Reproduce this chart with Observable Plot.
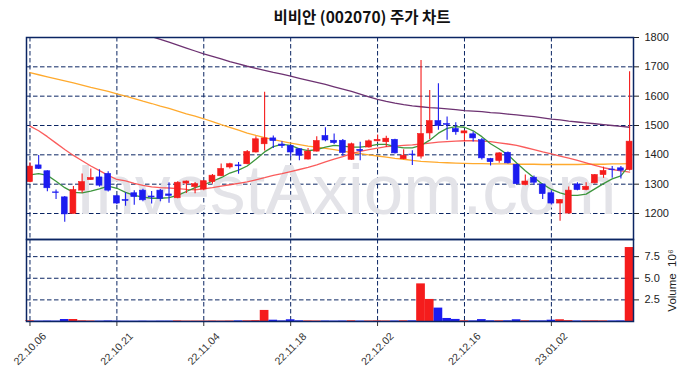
<!DOCTYPE html>
<html><head><meta charset="utf-8">
<script src="https://cdn.jsdelivr.net/npm/d3@7"></script>
<script src="https://cdn.jsdelivr.net/npm/@observablehq/plot@0.6"></script>
<style>
body{margin:0;background:#fff;}
#wrap{position:relative;width:690px;height:378px;overflow:hidden;background:#fff;}
#title{position:absolute;left:34px;width:656px;top:6px;text-align:center;font-family:"Noto Sans CJK KR","Noto Sans",sans-serif;font-size:15.5px;line-height:20px;font-weight:bold;color:#111;}
#p1,#p2{position:absolute;left:0;top:0;}
</style></head><body>
<div id="wrap"><div id="p1"></div><div id="p2"></div><div id="title">비비안 (002070) 주가 차트</div></div>
<script>
const dates = ["22.10.06","22.10.07","22.10.11","22.10.12","22.10.13","22.10.14","22.10.17","22.10.18","22.10.19","22.10.20",
"22.10.21","22.10.24","22.10.25","22.10.26","22.10.27","22.10.28","22.10.31","22.11.01","22.11.02","22.11.03",
"22.11.04","22.11.07","22.11.08","22.11.09","22.11.10","22.11.11","22.11.14","22.11.15","22.11.16","22.11.17",
"22.11.18","22.11.21","22.11.22","22.11.23","22.11.24","22.11.25","22.11.28","22.11.29","22.11.30","22.12.01",
"22.12.02","22.12.05","22.12.06","22.12.07","22.12.08","22.12.09","22.12.12","22.12.13","22.12.14","22.12.15",
"22.12.16","22.12.19","22.12.20","22.12.21","22.12.22","22.12.23","22.12.26","22.12.27","22.12.28","22.12.29",
"23.01.02","23.01.03","23.01.04","23.01.05","23.01.06","23.01.09","23.01.10","23.01.11","23.01.12","23.01.13"];
const opens = [1307,1364,1344,1272,1255,1199,1278,1314,1323,1335,1259,1246,1269,1278,1258,1278,1265,1252,1302,1290,
1282,1307,1327,1357,1364,1368,1408,1436,1456,1435,1430,1419,1384,1411,1464,1448,1448,1383,1417,1425,
1446,1443,1451,1385,1401,1394,1473,1515,1505,1488,1473,1470,1450,1386,1379,1407,1366,1297,1322,1299,
1269,1234,1200,1299,1280,1303,1331,1350,1354,1348];
const highs = [1373,1398,1346,1280,1258,1292,1335,1352,1349,1342,1262,1271,1278,1283,1275,1282,1305,1308,1311,1306,
1312,1333,1369,1371,1374,1415,1462,1613,1464,1445,1432,1421,1422,1462,1492,1471,1452,1440,1443,1451,
1468,1463,1453,1417,1414,1722,1619,1642,1529,1509,1482,1478,1456,1388,1407,1410,1368,1331,1328,1301,
1278,1248,1290,1305,1305,1333,1358,1360,1360,1683];
const lows = [1305,1350,1274,1248,1170,1198,1269,1313,1290,1273,1230,1225,1228,1240,1232,1240,1235,1250,1268,1267,
1278,1300,1325,1352,1334,1366,1406,1413,1422,1422,1393,1380,1382,1410,1445,1435,1395,1381,1380,1423,
1444,1425,1403,1383,1364,1386,1452,1484,1450,1467,1444,1444,1382,1362,1371,1369,1298,1295,1296,1248,
1229,1174,1198,1278,1278,1301,1320,1320,1318,1345];
const closes = [1360,1352,1286,1270,1197,1280,1307,1321,1295,1278,1234,1243,1256,1245,1255,1250,1260,1305,1309,1300,
1310,1329,1352,1368,1361,1410,1453,1456,1447,1430,1408,1397,1411,1447,1449,1440,1406,1436,1413,1446,
1451,1455,1405,1397,1399,1471,1515,1499,1502,1477,1480,1456,1388,1375,1405,1371,1300,1309,1305,1266,
1234,1246,1278,1280,1291,1331,1345,1348,1346,1445];
// volume, millions of shares
const volumes = [0.08,0.05,0.06,0.05,0.23,0.23,0.08,0.06,0.05,0.07,0.05,0.04,0.04,0.05,0.04,0.05,0.05,0.07,0.05,0.05,
0.05,0.06,0.05,0.06,0.07,0.08,0.10,1.28,0.15,0.07,0.20,0.08,0.07,0.06,0.06,0.05,0.06,0.08,0.05,0.06,
0.07,0.06,0.06,0.08,0.08,4.35,2.55,1.55,0.35,0.24,0.08,0.07,0.22,0.08,0.08,0.08,0.20,0.08,0.07,0.07,
0.15,0.20,0.10,0.06,0.07,0.08,0.07,0.06,0.07,8.55];
const ma5 = [1332,1336,1330,1310,1288,1272,1270,1276,1284,1293,1286,1272,1262,1256,1252,1252,1254,1262,1275,1288,
1298,1310,1322,1338,1348,1362,1385,1410,1428,1436,1432,1420,1414,1418,1426,1432,1430,1426,1426,1430,
1436,1436,1428,1424,1424,1432,1450,1474,1490,1496,1494,1482,1462,1438,1420,1400,1372,1346,1322,1300,
1282,1270,1262,1262,1266,1284,1302,1318,1328,1366];
const ma20 = [1498,1482,1462,1440,1418,1398,1380,1362,1346,1330,1316,1311,1303,1296,1291,1288,1287,1285,1282,1281,
1284,1288,1293,1298,1303,1308,1315,1322,1330,1336,1343,1350,1357,1366,1376,1385,1394,1404,1412,1418,
1423,1428,1430,1432,1434,1437,1440,1443,1445,1447,1448,1448,1447,1445,1441,1437,1432,1425,1418,1410,
1403,1396,1389,1381,1373,1364,1356,1350,1345,1341];
const ma60 = [1680,1673,1666,1659,1652,1645,1638,1630,1623,1616,1608,1600,1592,1583,1575,1566,1558,1549,1540,1532,
1523,1513,1503,1494,1484,1474,1466,1459,1452,1446,1440,1435,1430,1426,1422,1418,1413,1408,1404,1400,
1396,1392,1388,1385,1381,1378,1376,1374,1373,1372,1371,1370,1370,1369,1369,1369,1368,1368,1368,1367,
1367,1367,1367,1367,1368,1368,1368,1369,1369,1370];
const ma120 = [null,null,null,null,null,null,null,null,null,null,null,null,null,1812,1803,1794,1784,1774,1764,1754,
1744,1736,1727,1718,1710,1702,1695,1688,1681,1675,1668,1661,1654,1647,1640,1632,1624,1616,1607,1598,
1589,1582,1576,1571,1567,1564,1561,1559,1557,1554,1551,1549,1547,1544,1542,1539,1536,1533,1530,1526,
1522,1519,1515,1512,1509,1506,1503,1500,1497,1494];
const priceTicks = [1200,1300,1400,1500,1600,1700,1800];
const volTicks = [2.5,5.0,7.5];
const tickLabels = ["22.10.06","22.10.21","22.11.04","22.11.18","22.12.02","22.12.16","23.01.02"];

const UP = "#f51c1c", DOWN = "#1c1cf0", NAVY = "#0b2563";
const rows = dates.map((d, i) => ({i, date: d, open: opens[i], high: highs[i], low: lows[i], close: closes[i],
  vol: volumes[i], ma5: ma5[i], ma20: ma20[i], ma60: ma60[i], ma120: ma120[i]}));
const col = d => d.close >= d.open ? UP : DOWN;
const tickPos = tickLabels.map(t => dates.indexOf(t));
const xDomain = [-0.4, 69.45];
const dash = {stroke: NAVY, strokeDasharray: "4.5,2.5", strokeWidth: 1};

const main = Plot.plot({
  width: 690, height: 378, marginTop: 37, marginBottom: 139, marginLeft: 26, marginRight: 57,
  style: {background: "transparent", overflow: "visible", fontFamily: "'Liberation Sans', Arial, sans-serif", fontSize: "11px", color: "#222"},
  x: {domain: xDomain, axis: null},
  y: {domain: [1111.4, 1800], axis: "right", ticks: priceTicks, tickSize: 5, tickPadding: 6, label: null, tickFormat: d => String(d)},
  marks: [
    Plot.ruleY(priceTicks, dash),
    Plot.ruleX(tickPos, dash),
    Plot.text(["InvestAxiom.com"], {text: d => d, frameAnchor: "bottom", dx: 16, dy: -26, lineAnchor: "bottom",
      fontSize: 71, fill: "#e3e3e8", fontFamily: "'Liberation Sans', Arial, sans-serif"}),
    Plot.line(rows.filter(d => d.ma120 != null), {x: "i", y: "ma120", stroke: "#6d3272", strokeWidth: 1.3, clip: true}),
    Plot.line(rows, {x: "i", y: "ma60", stroke: "#ffaa2e", strokeWidth: 1.3}),
    Plot.line(rows, {x: "i", y: "ma20", stroke: "#fa4a4a", strokeWidth: 1.3, strokeOpacity: 0.9}),
    Plot.line(rows, {x: "i", y: "ma5", stroke: "#3d963d", strokeWidth: 1.3}),
    Plot.ruleX(rows, {x: "i", y1: "low", y2: "high", stroke: col, strokeWidth: 1.1}),
    Plot.rect(rows, {x1: d => d.i - 0.34, x2: d => d.i + 0.34,
      y1: d => Math.min(d.open, d.close), y2: d => Math.max(d.open, d.close),
      fill: col, stroke: col, strokeWidth: 0.6}),
    Plot.frame({stroke: NAVY, strokeWidth: 1.5})
  ]
});

const vol = Plot.plot({
  width: 690, height: 378, marginTop: 239, marginBottom: 57, marginLeft: 26, marginRight: 57,
  style: {background: "transparent", overflow: "visible", fontFamily: "'Liberation Sans', Arial, sans-serif", fontSize: "11px", color: "#222"},
  x: {domain: xDomain, axis: null},
  y: {domain: [0, 9.48], axis: "right", ticks: volTicks, tickSize: 5, tickPadding: 6, label: null, tickFormat: d3.format(".1f")},
  marks: [
    Plot.ruleY(volTicks, dash),
    Plot.ruleX(tickPos, dash),
    Plot.rect(rows, {x1: d => d.i - 0.5, x2: d => d.i + 0.5, y1: 0, y2: "vol", fill: col}),
    Plot.ruleX(tickPos, {x: d => d, y1: 0, y2: 0, stroke: "#333", insetBottom: -5}),
    Plot.text(tickLabels, {x: d => dates.indexOf(d), text: d => d, frameAnchor: "bottom", dy: 27.5, rotate: -45,
      textAnchor: "middle", lineAnchor: "middle", fontSize: 10.5, fill: "#333"}),
    Plot.text(["Volume  10⁶"], {text: d => d, frameAnchor: "right", dx: 39, rotate: -90, textAnchor: "middle",
      lineAnchor: "middle", fontSize: 11.5, fill: "#222"}),
    Plot.frame({stroke: NAVY, strokeWidth: 1.5})
  ]
});

document.getElementById("p1").appendChild(main);
document.getElementById("p2").appendChild(vol);
</script>
</body></html>
